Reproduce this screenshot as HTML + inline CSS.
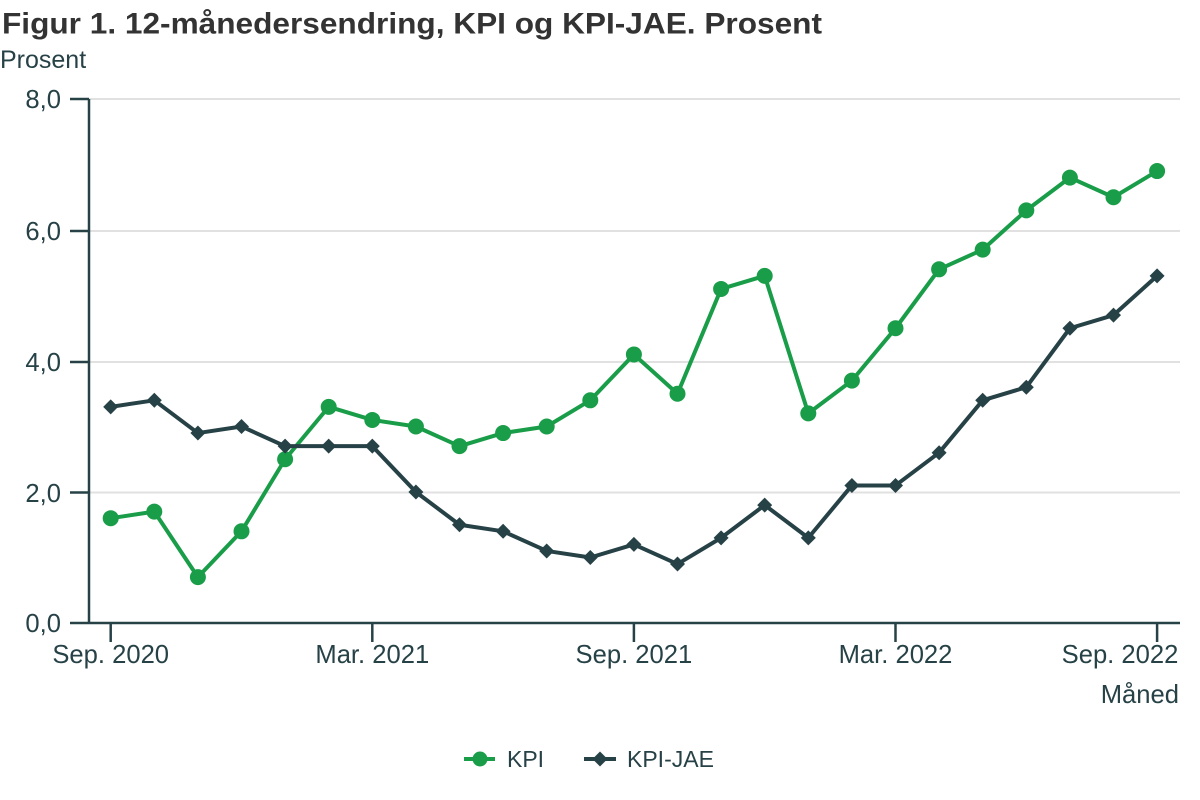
<!DOCTYPE html>
<html><head><meta charset="utf-8"><style>
html,body{margin:0;padding:0;background:#fff;}
svg{display:block;}
text{font-family:"Liberation Sans",Arial,sans-serif;}
</style></head><body>
<svg width="1200" height="800" viewBox="0 0 1200 800" xmlns="http://www.w3.org/2000/svg">
<defs>
<path id="dm" d="M0,-7.5 L7.5,0 L0,7.5 L-7.5,0 Z" fill="#274247"/>
</defs>
<rect width="1200" height="800" fill="#fff"/>
<text x="2" y="33.5" font-size="29.5" font-weight="bold" fill="#333333" textLength="820" lengthAdjust="spacingAndGlyphs">Figur 1. 12-månedersendring, KPI og KPI-JAE. Prosent</text>
<text x="0" y="68" font-size="25" fill="#274247">Prosent</text>
<!-- grid -->
<g stroke="#e1e1e1" stroke-width="2">
<line x1="89" y1="99" x2="1180" y2="99"/>
<line x1="89" y1="231" x2="1180" y2="231"/>
<line x1="89" y1="362" x2="1180" y2="362"/>
<line x1="89" y1="492.5" x2="1180" y2="492.5"/>
</g>
<!-- axes -->
<g stroke="#274247" stroke-width="2.5">
<line x1="89" y1="99" x2="89" y2="623"/>
<line x1="70" y1="623" x2="1180" y2="623"/>
<line x1="70" y1="99" x2="89" y2="99"/>
<line x1="70" y1="231" x2="89" y2="231"/>
<line x1="70" y1="362" x2="89" y2="362"/>
<line x1="70" y1="492.5" x2="89" y2="492.5"/>
<line x1="110.7" y1="623" x2="110.7" y2="642"/>
<line x1="372.3" y1="623" x2="372.3" y2="642"/>
<line x1="633.9" y1="623" x2="633.9" y2="642"/>
<line x1="895.5" y1="623" x2="895.5" y2="642"/>
<line x1="1157.1" y1="623" x2="1157.1" y2="642"/>
</g>
<g font-size="25.6" fill="#274247" text-anchor="end">
<text x="61" y="108">8,0</text>
<text x="61" y="240">6,0</text>
<text x="61" y="371">4,0</text>
<text x="61" y="502">2,0</text>
<text x="61" y="632">0,0</text>
</g>
<g font-size="25.6" fill="#274247" text-anchor="middle">
<text x="110.7" y="663">Sep. 2020</text>
<text x="372.3" y="663">Mar. 2021</text>
<text x="633.9" y="663">Sep. 2021</text>
<text x="895.5" y="663">Mar. 2022</text>
<text x="1120" y="663">Sep. 2022</text>
</g>
<text x="1179" y="703" font-size="25.6" fill="#274247" text-anchor="end">Måned</text>

<!-- KPI -->
<polyline fill="none" stroke="#1a9d49" stroke-width="4" stroke-linejoin="round" points="110.7,518.2 154.3,511.65 197.9,577.15 241.5,531.3 285.1,459.25 328.7,406.85 372.3,419.95 415.9,426.5 459.5,446.15 503.1,433.05 546.7,426.5 590.3,400.3 633.9,354.45 677.5,393.75 721.1,288.95 764.7,275.85 808.3,413.4 851.9,380.65 895.5,328.25 939.1,269.3 982.7,249.65 1026.3,210.35 1069.9,177.6 1113.5,197.25 1157.1,171.05"/>
<g fill="#1a9d49">
<circle cx="110.7" cy="518.2" r="8"/>
<circle cx="154.3" cy="511.65" r="8"/>
<circle cx="197.9" cy="577.15" r="8"/>
<circle cx="241.5" cy="531.3" r="8"/>
<circle cx="285.1" cy="459.25" r="8"/>
<circle cx="328.7" cy="406.85" r="8"/>
<circle cx="372.3" cy="419.95" r="8"/>
<circle cx="415.9" cy="426.5" r="8"/>
<circle cx="459.5" cy="446.15" r="8"/>
<circle cx="503.1" cy="433.05" r="8"/>
<circle cx="546.7" cy="426.5" r="8"/>
<circle cx="590.3" cy="400.3" r="8"/>
<circle cx="633.9" cy="354.45" r="8"/>
<circle cx="677.5" cy="393.75" r="8"/>
<circle cx="721.1" cy="288.95" r="8"/>
<circle cx="764.7" cy="275.85" r="8"/>
<circle cx="808.3" cy="413.4" r="8"/>
<circle cx="851.9" cy="380.65" r="8"/>
<circle cx="895.5" cy="328.25" r="8"/>
<circle cx="939.1" cy="269.3" r="8"/>
<circle cx="982.7" cy="249.65" r="8"/>
<circle cx="1026.3" cy="210.35" r="8"/>
<circle cx="1069.9" cy="177.6" r="8"/>
<circle cx="1113.5" cy="197.25" r="8"/>
<circle cx="1157.1" cy="171.05" r="8"/>
</g>

<!-- KPI-JAE -->
<polyline fill="none" stroke="#274247" stroke-width="4" stroke-linejoin="round" points="110.7,406.85 154.3,400.3 197.9,433.05 241.5,426.5 285.1,446.15 328.7,446.15 372.3,446.15 415.9,492 459.5,524.75 503.1,531.3 546.7,550.95 590.3,557.5 633.9,544.4 677.5,564.05 721.1,537.85 764.7,505.1 808.3,537.85 851.9,485.45 895.5,485.45 939.1,452.7 982.7,400.3 1026.3,387.2 1069.9,328.25 1113.5,315.15 1157.1,275.85"/>
<g>
<use href="#dm" x="110.7" y="406.85"/>
<use href="#dm" x="154.3" y="400.3"/>
<use href="#dm" x="197.9" y="433.05"/>
<use href="#dm" x="241.5" y="426.5"/>
<use href="#dm" x="285.1" y="446.15"/>
<use href="#dm" x="328.7" y="446.15"/>
<use href="#dm" x="372.3" y="446.15"/>
<use href="#dm" x="415.9" y="492"/>
<use href="#dm" x="459.5" y="524.75"/>
<use href="#dm" x="503.1" y="531.3"/>
<use href="#dm" x="546.7" y="550.95"/>
<use href="#dm" x="590.3" y="557.5"/>
<use href="#dm" x="633.9" y="544.4"/>
<use href="#dm" x="677.5" y="564.05"/>
<use href="#dm" x="721.1" y="537.85"/>
<use href="#dm" x="764.7" y="505.1"/>
<use href="#dm" x="808.3" y="537.85"/>
<use href="#dm" x="851.9" y="485.45"/>
<use href="#dm" x="895.5" y="485.45"/>
<use href="#dm" x="939.1" y="452.7"/>
<use href="#dm" x="982.7" y="400.3"/>
<use href="#dm" x="1026.3" y="387.2"/>
<use href="#dm" x="1069.9" y="328.25"/>
<use href="#dm" x="1113.5" y="315.15"/>
<use href="#dm" x="1157.1" y="275.85"/>
</g>

<!-- legend -->
<line x1="464" y1="759" x2="495" y2="759" stroke="#1a9d49" stroke-width="4"/>
<circle cx="480" cy="759" r="7.5" fill="#1a9d49"/>
<text x="507" y="767" font-size="23" fill="#274247">KPI</text>
<line x1="584" y1="759" x2="616" y2="759" stroke="#274247" stroke-width="4"/>
<use href="#dm" x="600" y="759"/>
<text x="627" y="767" font-size="23" fill="#274247">KPI-JAE</text>
</svg>
</body></html>
